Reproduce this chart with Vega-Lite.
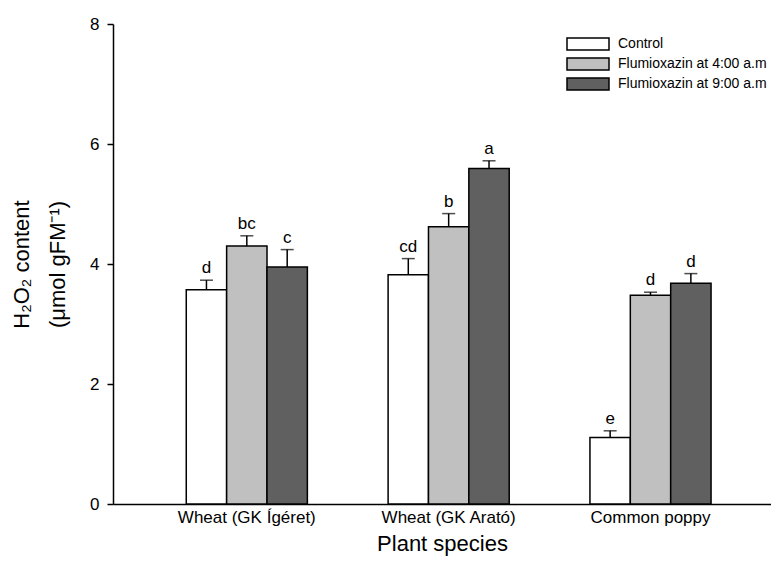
{
  "$schema": "https://vega.github.io/schema/vega-lite/v6.json",
  "width": 658,
  "height": 480,
  "autosize": "none",
  "padding": {"left": 113, "top": 24, "right": 0, "bottom": 57},
  "background": "white",
  "config": {
    "view": {"stroke": null},
    "font": "Liberation Sans",
    "axis": {"domainColor": "black", "tickColor": "black", "labelColor": "black", "titleColor": "black", "grid": false, "titleFontWeight": "normal"}
  },
  "data": {
    "values": [
      {"species": "Wheat (GK Ígéret)", "treatment": "Control", "mean": 3.57, "upper": 3.73, "letter": "d"},
      {"species": "Wheat (GK Ígéret)", "treatment": "Flumioxazin at 4:00 a.m", "mean": 4.30, "upper": 4.47, "letter": "bc"},
      {"species": "Wheat (GK Ígéret)", "treatment": "Flumioxazin at 9:00 a.m", "mean": 3.95, "upper": 4.24, "letter": "c"},
      {"species": "Wheat (GK Arató)", "treatment": "Control", "mean": 3.82, "upper": 4.09, "letter": "cd"},
      {"species": "Wheat (GK Arató)", "treatment": "Flumioxazin at 4:00 a.m", "mean": 4.62, "upper": 4.84, "letter": "b"},
      {"species": "Wheat (GK Arató)", "treatment": "Flumioxazin at 9:00 a.m", "mean": 5.59, "upper": 5.72, "letter": "a"},
      {"species": "Common poppy", "treatment": "Control", "mean": 1.11, "upper": 1.22, "letter": "e"},
      {"species": "Common poppy", "treatment": "Flumioxazin at 4:00 a.m", "mean": 3.48, "upper": 3.53, "letter": "d"},
      {"species": "Common poppy", "treatment": "Flumioxazin at 9:00 a.m", "mean": 3.68, "upper": 3.84, "letter": "d"}
    ]
  },
  "encoding": {
    "x": {
      "field": "species", "type": "nominal",
      "sort": ["Wheat (GK Ígéret)", "Wheat (GK Arató)", "Common poppy"],
      "scale": {"paddingInner": 0.4, "paddingOuter": 0.33, "align": 0.55},
      "axis": {"title": "Plant species", "labelAngle": 0, "ticks": false, "labelFontSize": 17, "labelPadding": 5, "titleFontSize": 22, "titlePadding": 8, "domainWidth": 1.5}
    },
    "xOffset": {
      "field": "treatment", "type": "nominal",
      "sort": ["Control", "Flumioxazin at 4:00 a.m", "Flumioxazin at 9:00 a.m"],
      "scale": {"paddingInner": 0, "paddingOuter": 0}
    }
  },
  "layer": [
    {
      "mark": {"type": "bar", "stroke": "black", "strokeWidth": 1.5},
      "encoding": {
        "y": {
          "field": "mean", "type": "quantitative",
          "scale": {"domain": [0, 8], "nice": false},
          "axis": {"values": [0, 2, 4, 6, 8], "format": "d", "title": ["H₂O₂ content", "(μmol gFM⁻¹)"], "titleFontSize": 22, "titleLineHeight": 36, "titlePadding": 20, "labelFontSize": 17, "labelPadding": 8, "tickSize": 6, "tickWidth": 1.5, "domainWidth": 1.5}
        },
        "fill": {
          "field": "treatment", "type": "nominal",
          "sort": ["Control", "Flumioxazin at 4:00 a.m", "Flumioxazin at 9:00 a.m"],
          "scale": {"range": ["#ffffff", "#c0c0c0", "#606060"]},
          "legend": {
            "title": null, "orient": "none", "legendX": 468, "legendY": 13,
            "symbolType": "M-3.5,-1L3.5,-1L3.5,1L-3.5,1Z",
            "symbolSize": 144, "symbolStrokeColor": "black", "symbolStrokeWidth": 1.5,
            "symbolOpacity": 1, "labelFontSize": 14, "labelColor": "black", "labelOffset": 23, "rowPadding": 2
          }
        }
      }
    },
    {
      "mark": {"type": "rule", "color": "black", "strokeWidth": 1.5},
      "encoding": {
        "y": {"field": "mean", "type": "quantitative"},
        "y2": {"field": "upper"}
      }
    },
    {
      "mark": {"type": "tick", "color": "black", "thickness": 1.5, "size": 13, "orient": "horizontal"},
      "encoding": {
        "y": {"field": "upper", "type": "quantitative"}
      }
    },
    {
      "mark": {"type": "text", "baseline": "alphabetic", "dy": -7, "fontSize": 17, "color": "black"},
      "encoding": {
        "y": {"field": "upper", "type": "quantitative"},
        "text": {"field": "letter"}
      }
    }
  ]
}
